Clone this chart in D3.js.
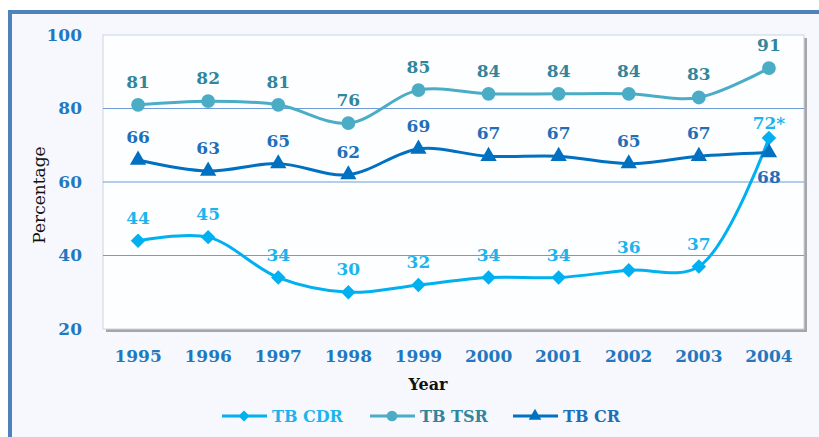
<!DOCTYPE html>
<html>
<head>
<meta charset="utf-8">
<script src="https://cdn.jsdelivr.net/npm/d3@7"></script>
<style>
  body { margin: 0; background: #fff; }
  text { font-family: "DejaVu Serif", serif; }
</style>
</head>
<body>
<svg id="chart" width="819" height="437"></svg>
<script>
// data
const years = ["1995","1996","1997","1998","1999","2000","2001","2002","2003","2004"];
const cdr = [44,45,34,30,32,34,34,36,37,72];
const tsr = [81,82,81,76,85,84,84,84,83,91];
const cr  = [66,63,65,62,69,67,67,65,67,68];
const yTicks = [20,40,60,80,100];

const svg = d3.select("#chart");
const plot = {left:103, top:35, right:804, bottom:329};

// outer frame
svg.append("rect")
  .attr("x", 10).attr("y", 12)
  .attr("width", 830).attr("height", 450)
  .attr("fill", "#f6f8fd")
  .attr("stroke", "#4f81bd")
  .attr("stroke-width", 4);

// plot area with a little shadow
svg.append("rect")
  .attr("x", plot.left + 3).attr("y", plot.top + 3)
  .attr("width", plot.right - plot.left).attr("height", plot.bottom - plot.top)
  .attr("fill", "#a6a6a6");
svg.append("rect")
  .attr("x", plot.left).attr("y", plot.top)
  .attr("width", plot.right - plot.left).attr("height", plot.bottom - plot.top)
  .attr("fill", "#fdfeff")
  .attr("stroke", "#c9d3e3")
  .attr("stroke-width", 1);

const x = d3.scaleBand()
  .domain(years)
  .range([plot.left, plot.right]);

const y = d3.scaleLinear()
  .domain([20, 100])
  .range([plot.bottom, plot.top]);

// gridlines
svg.append("g")
  .selectAll("line")
  .data(yTicks.filter(d => d > 20 && d < 100))
  .enter()
  .append("line")
  .attr("x1", plot.left).attr("x2", plot.right)
  .attr("y1", d => y(d)).attr("y2", d => y(d))
  .attr("stroke", "#6f9bd6")
  .attr("stroke-width", 1);

// y axis labels
const yAxis = d3.axisLeft(y).tickValues(yTicks).tickSize(0).tickPadding(21);
const gy = svg.append("g")
  .attr("transform", `translate(${plot.left},0)`)
  .call(yAxis);
gy.select(".domain").remove();
gy.selectAll("text")
  .attr("font-family", "DejaVu Serif")
  .attr("font-weight", "bold")
  .attr("font-size", 17)
  .attr("fill", "#1f78c1");

// x axis labels
const xAxis = d3.axisBottom(x).tickSize(0).tickPadding(21);
const gx = svg.append("g")
  .attr("transform", `translate(0,${plot.bottom})`)
  .call(xAxis);
gx.select(".domain").remove();
gx.selectAll("text")
  .attr("font-family", "DejaVu Serif")
  .attr("font-weight", "bold")
  .attr("font-size", 17)
  .attr("fill", "#1f78c1");

// axis titles
svg.append("text")
  .attr("x", 428).attr("y", 390)
  .attr("text-anchor", "middle")
  .attr("font-weight", "bold")
  .attr("font-size", 16)
  .attr("fill", "#111")
  .text("Year");

svg.append("text")
  .attr("transform", "translate(45,195) rotate(-90)")
  .attr("text-anchor", "middle")
  .attr("font-family", "Liberation Serif")
  .attr("font-size", 17)
  .attr("fill", "#111")
  .text("Percentage");

const cx = d => x(d) + x.bandwidth() / 2;

const series = [
  {name:"TB CDR", values:cdr, color:"#00b0f0", label:"#1cb4ee", shape:d3.symbolSquare, size:105, rot:45},
  {name:"TB TSR", values:tsr, color:"#4bacc6", label:"#31859c", shape:d3.symbolCircle, size:150, rot:0},
  {name:"TB CR",  values:cr,  color:"#0070c0", label:"#1f6fb8", shape:d3.symbolTriangle, size:115, rot:0}
];

const line = d3.line()
  .x((d, i) => cx(years[i]))
  .y(d => y(d))
  .curve(d3.curveCatmullRom.alpha(0.5));

series.forEach(s => {
  svg.append("path")
    .datum(s.values)
    .attr("d", line)
    .attr("fill", "none")
    .attr("stroke", s.color)
    .attr("stroke-width", 3);

  svg.append("g")
    .selectAll("path")
    .data(s.values)
    .enter()
    .append("path")
    .attr("transform", (d, i) => `translate(${cx(years[i])},${y(d)}) rotate(${s.rot})`)
    .attr("d", d3.symbol().type(s.shape).size(s.size))
    .attr("fill", s.color);
});

// data labels
series.forEach(s => {
  svg.append("g")
    .selectAll("text")
    .data(s.values)
    .enter()
    .append("text")
    .attr("x", (d, i) => cx(years[i]))
    .attr("y", (d, i) => {
      if (s.name === "TB CR" && i === 9) return y(d) + 30;
      if (s.name === "TB CDR" && i === 9) return y(d) - 9;
      return y(d) - 17;
    })
    .attr("text-anchor", "middle")
    .attr("font-weight", "bold")
    .attr("font-size", 17)
    .attr("fill", s.label)
    .text((d, i) => s.name === "TB CDR" && i === 9 ? d + "*" : d);
});

// legend
const legendX = [222, 370, 513];
series.forEach((s, i) => {
  const g = svg.append("g").attr("transform", `translate(${legendX[i]},416)`);
  g.append("line")
    .attr("x1", 0).attr("x2", 45)
    .attr("stroke", s.color).attr("stroke-width", 3);
  g.append("path")
    .attr("transform", `translate(22,0) rotate(${s.rot})`)
    .attr("d", d3.symbol().type(s.shape).size(s.size * 0.6))
    .attr("fill", s.color);
  g.append("text")
    .attr("x", 50).attr("y", 6)
    .attr("font-weight", "bold")
    .attr("font-size", 16)
    .attr("fill", s.label)
    .text(s.name);
});
</script>
</body>
</html>
